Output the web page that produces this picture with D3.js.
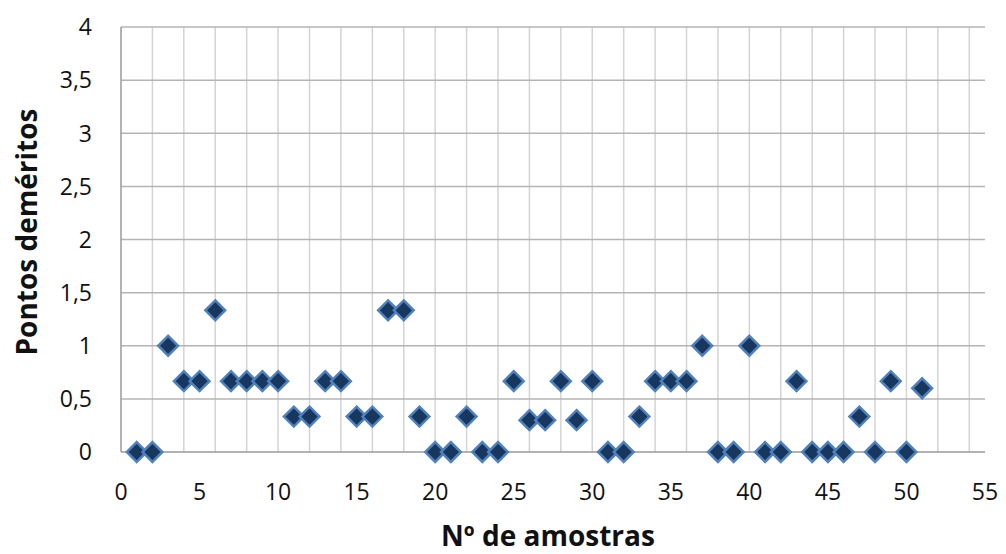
<!DOCTYPE html>
<html>
<head>
<meta charset="utf-8">
<script src="https://cdn.jsdelivr.net/npm/d3@7"></script>
<style>
  body { margin: 0; background: #fff; }
  svg { display: block; }
</style>
</head>
<body>
<div id="chart"></div>
<script>
const amostras = d3.range(1, 52);
const demeritos = [
  0, 0, 1, 0.667, 0.667, 1.333, 0.667, 0.667, 0.667, 0.667,
  0.333, 0.333, 0.667, 0.667, 0.333, 0.333, 1.333, 1.333, 0.333, 0,
  0, 0.333, 0, 0, 0.667, 0.3, 0.3, 0.667, 0.3, 0.667,
  0, 0, 0.333, 0.667, 0.667, 0.667, 1, 0, 0, 1,
  0, 0, 0.667, 0, 0, 0, 0.333, 0, 0.667, 0,
  0.6
];
const xTicks = d3.range(0, 56, 5);
const xGrid = d3.range(0, 55, 2);
const yTicks = d3.range(0, 4.01, 0.5);

const width = 1006, height = 554;
const margin = { top: 27, right: 21, bottom: 102, left: 121 };
const innerW = width - margin.left - margin.right;
const innerH = height - margin.top - margin.bottom;

const svg = d3.select("#chart").append("svg")
  .attr("width", width)
  .attr("height", height);

const g = svg.append("g")
  .attr("transform", `translate(${margin.left},${margin.top})`);

const x = d3.scaleLinear().domain([0, 55]).range([0, innerW]);
const y = d3.scaleLinear().domain([0, 4]).range([innerH, 0]);

const font = "'Open Sans', sans-serif";

// vertical grid
g.append("g")
  .selectAll("line")
  .data(xGrid.filter(d => d > 0))
  .enter()
  .append("line")
  .attr("x1", d => x(d)).attr("x2", d => x(d))
  .attr("y1", 0).attr("y2", innerH)
  .attr("stroke", "#d4d4d4")
  .attr("stroke-width", 1.5);

// horizontal grid
g.append("g")
  .selectAll("line")
  .data(yTicks.filter(d => d > 0))
  .enter()
  .append("line")
  .attr("x1", 0).attr("x2", innerW)
  .attr("y1", d => y(d)).attr("y2", d => y(d))
  .attr("stroke", "#b4b4b4")
  .attr("stroke-width", 1.5);

// axis lines
g.append("line")
  .attr("x1", 0).attr("x2", 0)
  .attr("y1", 0).attr("y2", innerH)
  .attr("stroke", "#9a9a9a").attr("stroke-width", 1.5);
g.append("line")
  .attr("x1", 0).attr("x2", innerW)
  .attr("y1", innerH).attr("y2", innerH)
  .attr("stroke", "#9a9a9a").attr("stroke-width", 1.5);

const fmt = d => String(d).replace(".", ",");

// y tick labels
g.append("g")
  .selectAll("text")
  .data(yTicks)
  .enter()
  .append("text")
  .attr("x", -29)
  .attr("y", d => y(d))
  .attr("dy", "0.36em")
  .attr("text-anchor", "end")
  .style("font-family", font)
  .style("font-size", "23px")
  .style("fill", "#111")
  .text(fmt);

// x tick labels
g.append("g")
  .selectAll("text")
  .data(xTicks)
  .enter()
  .append("text")
  .attr("x", d => x(d))
  .attr("y", innerH + 48)
  .attr("text-anchor", "middle")
  .style("font-family", font)
  .style("font-size", "23px")
  .style("fill", "#111")
  .text(fmt);

// points
const diamond = d3.symbol().type(d3.symbolDiamond2).size(250);
g.append("g")
  .selectAll("path")
  .data(amostras.map((a, i) => ({ a, v: demeritos[i] })))
  .enter()
  .append("path")
  .attr("d", diamond)
  .attr("transform", d => `translate(${x(d.a)},${y(d.v)})`)
  .attr("fill", "#17375e")
  .attr("stroke", "#4f81bd")
  .attr("stroke-width", 2.5)
  .attr("stroke-linejoin", "miter");

// axis titles
svg.append("text")
  .attr("x", margin.left + x(27.5) - 5)
  .attr("y", 546)
  .attr("text-anchor", "middle")
  .style("font-family", font)
  .style("font-size", "28px")
  .style("font-weight", "bold")
  .style("fill", "#111")
  .text("Nº de amostras");

svg.append("text")
  .attr("transform", "translate(37,232) rotate(-90)")
  .attr("text-anchor", "middle")
  .style("font-family", font)
  .style("font-size", "28px")
  .style("font-weight", "bold")
  .style("fill", "#111")
  .text("Pontos deméritos");
</script>
</body>
</html>
